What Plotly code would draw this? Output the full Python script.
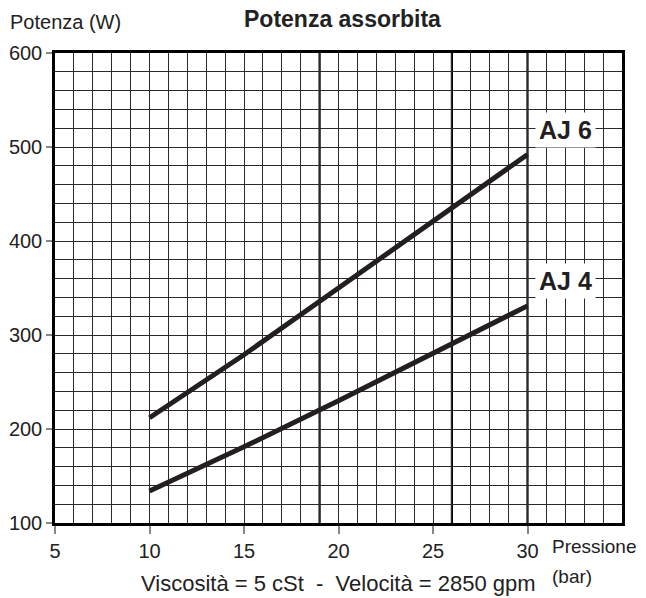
import plotly.graph_objects as go

# ---- data ----
pressione = [10, 15, 20, 25, 30]
aj6_w = [212, 279, 350, 421, 492]
aj4_w = [134, 181, 230, 281, 331]

x_tickvals = [5, 10, 15, 20, 25, 30]
y_tickvals = [100, 200, 300, 400, 500, 600]
heavy_grid_x = [19, 26, 30]

FONT = "Liberation Sans, Arial, sans-serif"
INK = "#231f20"

fig = go.Figure()
fig.add_trace(go.Scatter(x=pressione, y=aj6_w, mode="lines", name="AJ 6",
                         line=dict(color=INK, width=5), showlegend=False))
fig.add_trace(go.Scatter(x=pressione, y=aj4_w, mode="lines", name="AJ 4",
                         line=dict(color=INK, width=5), showlegend=False))

# heavier grid lines seen on the original sheet
for xv in heavy_grid_x:
    fig.add_shape(type="line", xref="x", yref="paper", x0=xv, x1=xv, y0=0, y1=1,
                  line=dict(color="#000", width=2.2), layer="below")

fig.update_xaxes(range=[5, 35], tickmode="array", tickvals=x_tickvals, automargin=False,
                 ticks="outside", ticklen=8, tickwidth=1.5, tickcolor="#888",
                 showgrid=True, gridcolor="#2a2a2a", gridwidth=1.3,
                 minor=dict(dtick=1, tick0=5, showgrid=True, gridcolor="#2a2a2a", gridwidth=1.3),
                 showline=True, linecolor="#000", linewidth=2.5, mirror=True,
                 zeroline=False, tickfont=dict(family=FONT, size=20, color="#222"))
fig.update_yaxes(range=[100, 600], tickmode="array", tickvals=y_tickvals, automargin=False,
                 ticks="outside", ticklen=6, tickwidth=1.5, tickcolor="#888",
                 showgrid=True, gridcolor="#2a2a2a", gridwidth=1.3,
                 minor=dict(dtick=20, tick0=100, showgrid=True, gridcolor="#2a2a2a", gridwidth=1.3),
                 showline=True, linecolor="#000", linewidth=2.5, mirror=True,
                 zeroline=False, tickfont=dict(family=FONT, size=20, color="#222"))

ann = []
# curve labels
ann.append(dict(x=32, y=518, xref="x", yref="y", text="<b>AJ 6</b>", showarrow=False,
                font=dict(family=FONT, size=25, color=INK), bgcolor="white", borderpad=3))
ann.append(dict(x=32, y=357, xref="x", yref="y", text="<b>AJ 4</b>", showarrow=False,
                font=dict(family=FONT, size=25, color=INK), bgcolor="white", borderpad=3))
# title
ann.append(dict(x=(342 - 55) / 567, y=(523 - 19) / 470, xref="paper", yref="paper",
                text="<b>Potenza assorbita</b>", showarrow=False, xanchor="center", yanchor="middle",
                font=dict(family=FONT, size=23, color="#222")))
# y axis title
ann.append(dict(x=(8 - 55) / 567, y=(523 - 22) / 470, xref="paper", yref="paper",
                text="Potenza (W)", showarrow=False, xanchor="left", yanchor="middle",
                font=dict(family=FONT, size=20, color="#222")))
# x axis title
ann.append(dict(x=(550 - 55) / 567, y=(523 - 546) / 470, xref="paper", yref="paper",
                text="Pressione", showarrow=False, xanchor="left", yanchor="middle",
                font=dict(family=FONT, size=19, color="#222")))
ann.append(dict(x=(550 - 55) / 567, y=(523 - 576) / 470, xref="paper", yref="paper",
                text="(bar)", showarrow=False, xanchor="left", yanchor="middle",
                font=dict(family=FONT, size=19, color="#222")))
# conditions note
ann.append(dict(x=(338 - 55) / 567, y=(523 - 583) / 470, xref="paper", yref="paper",
                text="Viscosità = 5 cSt  -  Velocità = 2850 gpm", showarrow=False,
                xanchor="center", yanchor="middle",
                font=dict(family=FONT, size=22, color="#222")))

fig.update_layout(width=638, height=590, margin=dict(l=47, r=24, t=45, b=75),
                  paper_bgcolor="white", plot_bgcolor="white", annotations=ann,
                  font=dict(family=FONT))

fig.write_html("out.html")
